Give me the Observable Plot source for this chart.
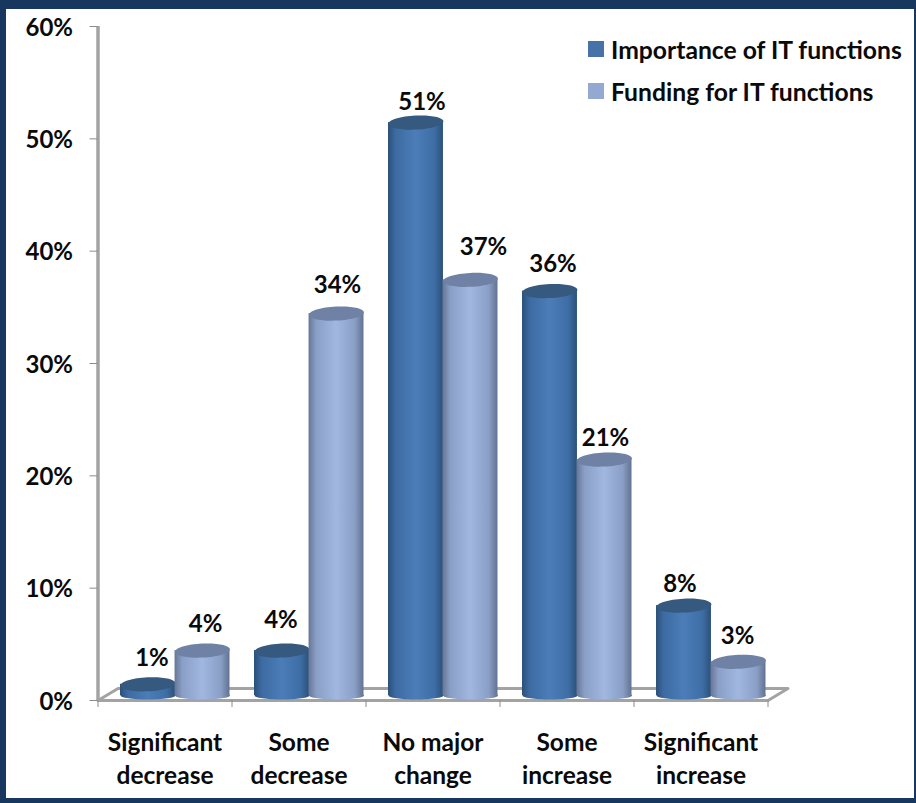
<!DOCTYPE html>
<html>
<head>
<meta charset="utf-8">
<script src="https://cdn.jsdelivr.net/npm/d3@7"></script>
<script src="https://cdn.jsdelivr.net/npm/@observablehq/plot@0.6"></script>
<style>
  html, body { margin: 0; padding: 0; background: #fff; }
  #chart { position: relative; width: 916px; height: 803px; overflow: hidden; font-family: Lato, sans-serif; }
  #chart svg { display: block; }
  #frame { position: absolute; inset: 0; box-sizing: border-box; pointer-events: none;
           border-style: solid; border-color: #17375e; border-width: 9px 2px 5px 6px; }
  #legend { position: absolute; left: 588px; top: 28px; font-weight: 700; font-size: 24.7px; color: #0a0a0a; }
  #legend div { display: flex; align-items: center; height: 42px; white-space: nowrap; }
  #legend i { display: block; width: 16px; height: 16px; margin-right: 7px; }
</style>
</head>
<body>
<div id="chart">
  <div id="legend"></div>
  <div id="frame"></div>
</div>
<script>
// Survey responses, percent of respondents
const categories = ["Significant\ndecrease", "Some\ndecrease", "No major\nchange", "Some\nincrease", "Significant\nincrease"];
const importance = [1, 4, 51, 36, 8];
const funding = [4, 34, 37, 21, 3];
const yTicks = [0, 10, 20, 30, 40, 50, 60];

// Label offsets from the top of each cylinder, in pixels
const importanceLabelDx = [4, -1, 6, 3, -4];
const importanceLabelDy = [-27, -31, -21, -28, -22];
const fundingLabelDx = [3, 1, 13, 1, -1];
const fundingLabelDy = [-27, -29, -34, -22, -26];

const series = [
  {name: "Importance of IT functions", values: importance, start: 0.168, grad: "cylImportance", top: "#35597f", swatch: "#4672a8",
   stops: ["#2a5078", "#3d6ba2", "#4c7db8", "#3f6ea6", "#2b5179"], ldx: importanceLabelDx, ldy: importanceLabelDy},
  {name: "Funding for IT functions", values: funding, start: 0.575, grad: "cylFunding", top: "#6f82a5", swatch: "#94a8d0",
   stops: ["#667696", "#8a9fc6", "#a0b7e0", "#8a9fc6", "#627292"], ldx: fundingLabelDx, ldy: fundingLabelDy}
];

const left = 97.5, right = 767.5, topY = 26, zeroY = 700;
const barWidth = 0.41;              // cylinder width, in category units
const lift = -5;                    // cylinders stand back from the front edge of the floor
const unit = (right - left) / categories.length;

// Flat ellipse usable as a dot symbol, tipped a little to the right
const ellipse = (rx, ry, tilt = 0) => ({
  draw(c) {
    const k = 0.5523, cos = Math.cos(tilt), sin = Math.sin(tilt);
    const p = (x, y) => [x * cos + y * sin, -x * sin + y * cos];
    c.moveTo(...p(-rx, 0));
    c.bezierCurveTo(...p(-rx, -k * ry), ...p(-k * rx, -ry), ...p(0, -ry));
    c.bezierCurveTo(...p(k * rx, -ry), ...p(rx, -k * ry), ...p(rx, 0));
    c.bezierCurveTo(...p(rx, k * ry), ...p(k * rx, ry), ...p(0, ry));
    c.bezierCurveTo(...p(-k * rx, ry), ...p(-rx, k * ry), ...p(-rx, 0));
    c.closePath();
  }
});
const rx = barWidth * unit / 2;

const n = categories.length;
const catCenters = d3.range(n).map(i => i + 0.5);
const text = {fontSize: 24, fontWeight: 700, fill: "#0a0a0a"};

// Floor of the chart: front edge, back edge and the two sides
const depthX = 20 / unit, depthY = 12 / ((zeroY - topY) / 60);
const floor = [[0, 0], [depthX, depthY], [n + depthX, depthY], [n, 0], [0, 0]];

const marks = [
  Plot.line(floor, {x: d => d[0], y: d => d[1], stroke: "#a3a3a3", strokeWidth: 3}),
  Plot.ruleX([0], {y1: () => 0, y2: () => 60, stroke: "#a3a3a3", strokeWidth: 3.5}),
  // Short tick stubs left of the value axis, with the labels set a little lower
  Plot.axisY({ticks: yTicks, tickSize: 8, tickFormat: () => "", label: null, stroke: "#8c8c8c"}),
  Plot.text(yTicks, {y: d => d, frameAnchor: "left", textAnchor: "end", dx: -25, dy: 1.5, text: d => d + "%", ...text}),
  Plot.axisX({ticks: d3.range(n + 1), tickSize: 7, stroke: "#8c8c8c", tickFormat: () => "", label: null}),
  Plot.axisX({ticks: catCenters, tickSize: 0, tickPadding: 27, tickFormat: d => categories[d - 0.5], label: null, lineHeight: 1.35, ...text, fontSize: 24.5})
];

for (const s of series) {
  const rows = s.values.map((v, i) => ({v, x1: i + s.start, x2: i + s.start + barWidth, c: i + s.start + barWidth / 2, i}));
  marks.push(
    Plot.dot(rows, {x: "c", y: () => 0, dy: lift, symbol: ellipse(rx, 4), fill: `url(#${s.grad})`, stroke: "none"}),
    Plot.rect(rows, {x1: "x1", x2: "x2", y1: () => 0, y2: "v", dy: lift, fill: `url(#${s.grad})`}),
    Plot.dot(rows, {x: "c", y: "v", dy: lift, symbol: ellipse(rx, 7, 0.05), fill: s.top, stroke: "none"})
  );
  for (const r of rows) {
    marks.push(Plot.text([r], {x: "c", y: "v", text: d => d.v + "%", dx: s.ldx[r.i], dy: s.ldy[r.i] + lift + 1, ...text}));
  }
}

const plot = Plot.plot({
  width: 916,
  height: 803,
  marginLeft: left,
  marginRight: 916 - right,
  marginTop: topY,
  marginBottom: 803 - zeroY,
  x: {type: "linear", domain: [0, n], axis: null},
  y: {domain: [0, 60], axis: null},
  style: {fontFamily: "Lato, sans-serif", background: "#fff", overflow: "visible"},
  marks
});

// Horizontal shading that gives the bars their round look
const defs = d3.select(plot).insert("defs", ":first-child");
for (const s of series) {
  const g = defs.append("linearGradient").attr("id", s.grad).attr("x1", 0).attr("x2", 1).attr("y1", 0).attr("y2", 0);
  [0, 0.14, 0.5, 0.84, 1].forEach((o, i) => g.append("stop").attr("offset", o).attr("stop-color", s.stops[i]));
}

const chart = document.getElementById("chart");
chart.insertBefore(plot, chart.firstChild);

const legend = d3.select("#legend");
for (const s of series) {
  const row = legend.append("div");
  row.append("i").style("background", s.swatch);
  row.append("span").text(s.name);
}
</script>
</body>
</html>
